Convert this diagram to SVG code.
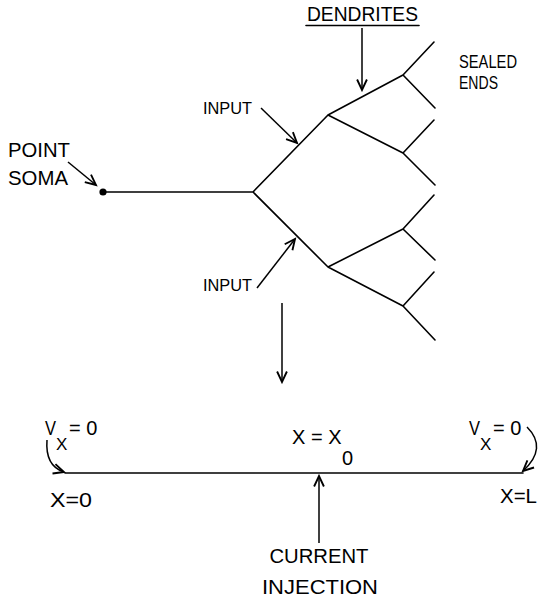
<svg xmlns="http://www.w3.org/2000/svg" width="540" height="599" viewBox="0 0 540 599">
<style>
.ln{stroke:#000;stroke-width:1.6;fill:none;stroke-linecap:round;stroke-linejoin:round}
.ar{stroke:#000;stroke-width:1.5;fill:none;marker-end:url(#ah)}
text{font-family:"Liberation Sans",Arial,sans-serif;fill:#000}
.t20{font-size:20px}
.t16{font-size:16.5px}
.sub{font-size:17px}
</style>
<defs>
<marker id="ah" markerUnits="userSpaceOnUse" markerWidth="14" markerHeight="14" refX="10" refY="5" orient="auto" viewBox="0 0 12 10">
<path d="M1,0.8 L10,5 L1,9.2" fill="none" stroke="#000" stroke-width="1.6" stroke-linejoin="miter"/>
</marker>
</defs>
<rect width="540" height="599" fill="#fff"/>
<g id="tree">
<path class="ln" d="M103,192 L253,192 M253,192 L328,115 M253,192 L328,267 M328,115 L403,75 M328,115 L403,153 M328,267 L403,229 M328,267 L403,306 M434,42 L403,75 L435,108 M434,120 L403,153 L435,185 M434,195 L403,229 L435,260 M434,272 L403,306 L435,340"/>
<circle cx="103" cy="192" r="3.6" fill="#000"/>
</g>
<g id="cable">
<path class="ln" d="M65,473 L523,473"/>
</g>
<g id="labels">
<text id="dendrites" x="307" y="21" textLength="111" lengthAdjust="spacingAndGlyphs" style="font-size:19.5px">DENDRITES</text>
<path class="ln" d="M306,25.5 L419,25.5" stroke-width="1.5"/>
<text id="sealed" x="459" y="68" textLength="58" lengthAdjust="spacingAndGlyphs" style="font-size:18px">SEALED</text>
<text id="ends" x="459" y="89" textLength="39" lengthAdjust="spacingAndGlyphs" style="font-size:18px">ENDS</text>
<text id="point" class="t20" x="8" y="157" textLength="62" lengthAdjust="spacingAndGlyphs">POINT</text>
<text id="soma" class="t20" x="8" y="185" textLength="60" lengthAdjust="spacingAndGlyphs">SOMA</text>
<text id="input1" class="t16" x="203" y="114" textLength="49" lengthAdjust="spacingAndGlyphs">INPUT</text>
<text id="input2" class="t16" x="203" y="291" textLength="49" lengthAdjust="spacingAndGlyphs">INPUT</text>
<g id="bc-left">
<text x="45" y="435" textLength="11" lengthAdjust="spacingAndGlyphs" style="font-size:21px">V</text>
<text class="sub" x="56" y="450">X</text>
<text class="t20" x="69" y="435">= 0</text>
</g>
<g id="bc-right">
<text x="469" y="435" textLength="11" lengthAdjust="spacingAndGlyphs" style="font-size:21px">V</text>
<text class="sub" x="480" y="450">X</text>
<text class="t20" x="493" y="435">= 0</text>
</g>
<g id="x0">
<text class="t20" x="292" y="444">X = X</text>
<text class="t20" x="342" y="465">0</text>
</g>
<text id="xzero" class="t20" x="50" y="507" textLength="42" lengthAdjust="spacingAndGlyphs">X=0</text>
<text id="xL" class="t20" x="500" y="503" textLength="37" lengthAdjust="spacingAndGlyphs">X=L</text>
<text id="current" class="t20" x="319" y="563" text-anchor="middle" textLength="99" lengthAdjust="spacingAndGlyphs">CURRENT</text>
<text id="injection" class="t20" x="320" y="594" text-anchor="middle" textLength="116" lengthAdjust="spacingAndGlyphs">INJECTION</text>
</g>
<g id="connectors">
<path class="ar" d="M362,28 L362,90"/>
<path class="ar" d="M261,108 L297,143"/>
<path class="ar" d="M257,288 L295,239"/>
<path class="ar" d="M68,162 L96,185"/>
<path class="ar" d="M282,303 L282,382"/>
<path class="ar" d="M47,440 Q45,466 64,472"/>
<path class="ar" d="M527,427 Q548,448 523,471"/>
<path class="ar" d="M319,543 L319,476"/>
</g>
</svg>
